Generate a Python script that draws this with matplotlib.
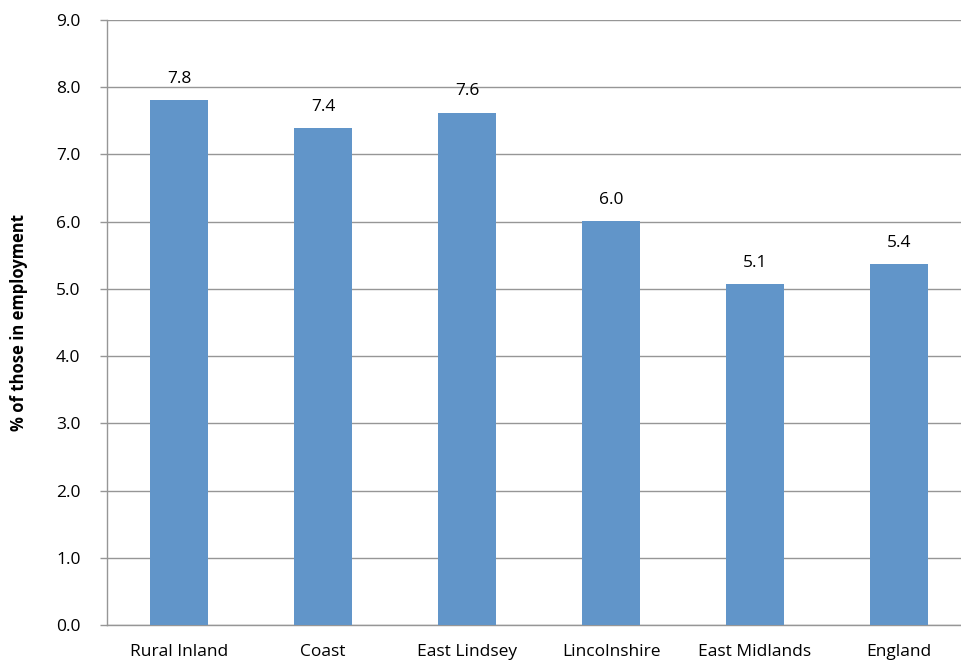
import matplotlib
matplotlib.use("Agg")
import matplotlib.pyplot as plt
import numpy as np

categories = ["Rural Inland", "Coast", "East Lindsey", "Lincolnshire", "East Midlands", "England"]
values = [7.81, 7.39, 7.62, 6.01, 5.07, 5.37]
yticks = [0.0, 1.0, 2.0, 3.0, 4.0, 5.0, 6.0, 7.0, 8.0, 9.0]

plt.rcParams['font.family'] = ['Open Sans', 'DejaVu Sans']

fig = plt.figure(figsize=(9.61, 6.62), dpi=100)
ax = fig.add_axes([107/961, 1-625/662, (971-107)/961, (625-20)/662])

x = np.arange(len(categories))
bars = ax.bar(x, values, width=0.4, color="#6195C9", zorder=3)
for xi, v in zip(x, values):
    ax.text(xi, v + 0.2, f"{v:.1f}", ha="center", va="bottom", fontsize=12.5, color="#000000")

ax.set_xlim(-0.5, len(categories) - 0.5)
ax.set_ylim(0, 9)
ax.set_yticks(yticks)
ax.set_yticklabels([f"{t:.1f}" for t in yticks], fontsize=12.5)
ax.set_xticks(x)
ax.set_xticklabels(categories, fontsize=12.5)
ax.tick_params(axis="x", length=0, pad=14)
ax.tick_params(axis="y", length=5, width=1, color="#969696", pad=14)
ax.yaxis.grid(True, color="#969696", linewidth=1, zorder=0)
for s in ["top", "right"]:
    ax.spines[s].set_visible(False)
for s in ["left", "bottom"]:
    ax.spines[s].set_color("#969696")
    ax.spines[s].set_linewidth(1)
ax.set_ylabel("% of those in employment", fontsize=12, fontweight="bold", labelpad=20)

fig.savefig("out.png", dpi=100)
